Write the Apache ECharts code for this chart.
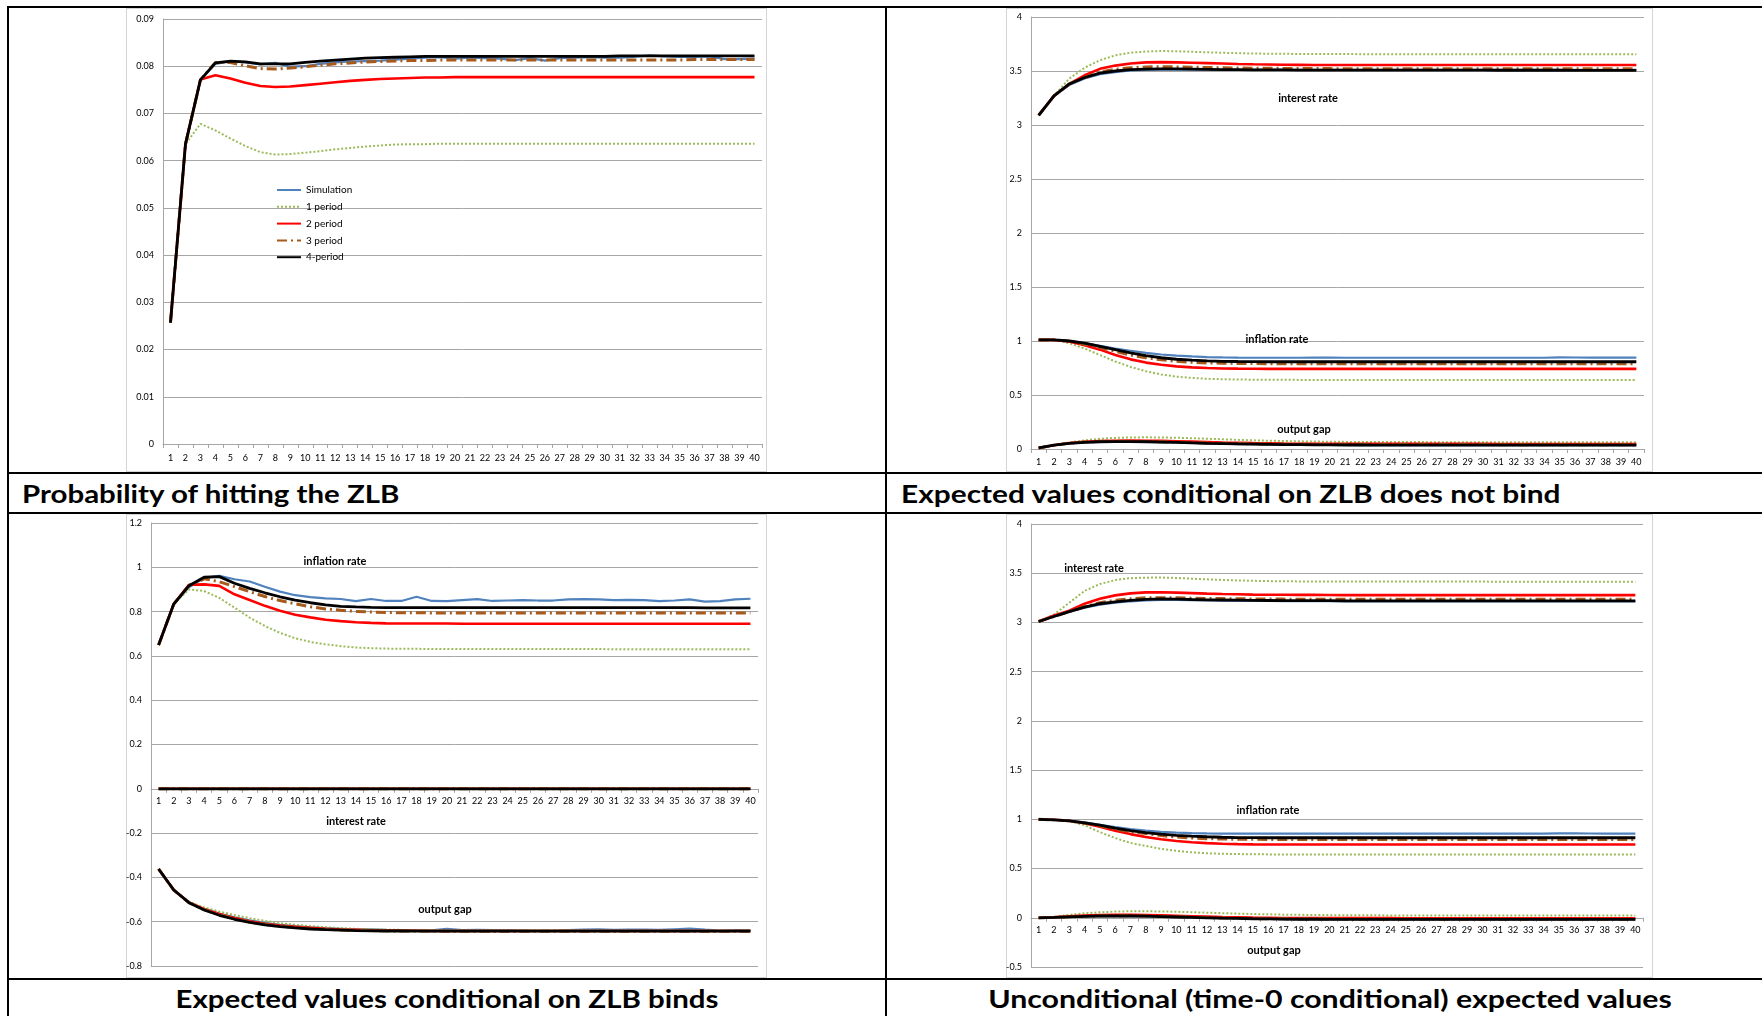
<!DOCTYPE html>
<html>
<head>
<meta charset="utf-8">
<script src="https://cdn.jsdelivr.net/npm/echarts@6/dist/echarts.min.js"></script>
<style>
html,body{margin:0;padding:0;background:#fff;width:1762px;height:1016px;overflow:hidden;font-family:Lato,"Liberation Sans",sans-serif;}
.hl{position:absolute;left:7px;width:1755px;height:2px;background:#000;}
.vl{position:absolute;top:6px;height:1010px;width:2px;background:#000;}
.frame{position:absolute;border:1px solid #D4D4D4;box-sizing:border-box;}
.title{position:absolute;font:bold 25px Lato,sans-serif;line-height:25px;white-space:nowrap;color:#000;}
.ann{position:absolute;font:bold 11px Lato,sans-serif;white-space:nowrap;color:#000;transform:translate(-50%,-50%);z-index:3;}
#chart{position:absolute;left:0;top:0;width:1762px;height:1016px;z-index:2;}
</style>
</head>
<body>
<div class="hl" style="top:6px"></div>
<div class="hl" style="top:472px"></div>
<div class="hl" style="top:512px"></div>
<div class="hl" style="top:978px"></div>
<div class="vl" style="left:7px"></div>
<div class="vl" style="left:885px"></div>
<div class="frame" style="left:126px;top:8px;width:641px;height:464px"></div>
<div class="frame" style="left:1006px;top:8px;width:647px;height:464px"></div>
<div class="frame" style="left:126px;top:514px;width:641px;height:464px"></div>
<div class="frame" style="left:1006px;top:514px;width:647px;height:464px"></div>
<div class="title" id="t1" style="left:22px;top:481px" data-w="378" data-a="left">Probability of hitting the ZLB</div>
<div class="title" id="t2" style="left:901px;top:481px" data-w="659" data-a="left">Expected values conditional on ZLB does not bind</div>
<div class="title" id="t3" style="left:447px;top:986px" data-w="543" data-a="center">Expected values conditional on ZLB binds</div>
<div class="title" id="t4" style="left:1330px;top:986px" data-w="684" data-a="center">Unconditional (time-0 conditional) expected values</div>
<div id="chart"></div>
<script>
// ---------- categories ----------
const categories = [1,2,3,4,5,6,7,8,9,10,11,12,13,14,15,16,17,18,19,20,21,22,23,24,25,26,27,28,29,30,31,32,33,34,35,36,37,38,39,40];
const seriesNames = ['Simulation','1 period','2 period','3 period','4-period'];

// ---------- Panel 1: probability of hitting the ZLB ----------
const probSim = [0.0257,0.0635,0.0771,0.0805,0.0810,0.0808,0.0804,0.0807,0.0799,0.0800,
  0.0805,0.0808,0.0810,0.0811,0.0812,0.0814,0.0816,0.0818,0.0819,0.0816,
  0.0818,0.0817,0.0816,0.0813,0.0817,0.0812,0.0817,0.0818,0.0819,0.0818,
  0.0818,0.0820,0.0823,0.0821,0.0820,0.0820,0.0821,0.0815,0.0815,0.0816];
const probP1 = [0.0257,0.0635,0.0678,0.0664,0.0647,0.0631,0.0618,0.0613,0.0614,0.0617,
  0.0620,0.0624,0.0627,0.0630,0.0632,0.0634,0.0635,0.0635,0.0636,0.0636,
  0.0636,0.0636,0.0636,0.0636,0.0636,0.0636,0.0636,0.0636,0.0636,0.0636,
  0.0636,0.0636,0.0636,0.0636,0.0636,0.0636,0.0636,0.0636,0.0636,0.0636];
const probP2 = [0.0257,0.0635,0.0772,0.0781,0.0774,0.0765,0.0758,0.0756,0.0757,0.0760,
  0.0763,0.0766,0.0769,0.0771,0.0773,0.0774,0.0775,0.0776,0.0776,0.0777,
  0.0777,0.0777,0.0777,0.0777,0.0777,0.0777,0.0777,0.0777,0.0777,0.0777,
  0.0777,0.0777,0.0777,0.0777,0.0777,0.0777,0.0777,0.0777,0.0777,0.0777];
const probP3 = [0.0257,0.0635,0.0771,0.0808,0.0808,0.0801,0.0795,0.0794,0.0796,0.0799,
  0.0802,0.0805,0.0807,0.0809,0.0810,0.0811,0.0812,0.0812,0.0813,0.0813,
  0.0813,0.0813,0.0813,0.0813,0.0813,0.0813,0.0813,0.0813,0.0813,0.0813,
  0.0813,0.0813,0.0813,0.0813,0.0813,0.0814,0.0814,0.0814,0.0814,0.0814];
const probP4 = [0.0257,0.0635,0.0771,0.0807,0.0811,0.0809,0.0805,0.0805,0.0805,0.0808,
  0.0811,0.0813,0.0815,0.0817,0.0818,0.0819,0.0820,0.0821,0.0821,0.0821,
  0.0821,0.0821,0.0821,0.0821,0.0821,0.0821,0.0821,0.0821,0.0821,0.0821,
  0.0822,0.0822,0.0822,0.0822,0.0822,0.0822,0.0822,0.0822,0.0822,0.0822];

// ---------- Panel 2: conditional on ZLB does not bind ----------
const nbRateSim = [3.09,3.27,3.37,3.43,3.47,3.49,3.505,3.51,3.513,3.514,
  3.513,3.512,3.511,3.51,3.51,3.51,3.51,3.51,3.51,3.51,
  3.51,3.51,3.51,3.51,3.51,3.51,3.51,3.51,3.51,3.51,
  3.51,3.51,3.51,3.51,3.51,3.51,3.51,3.51,3.51,3.51];
const nbRateP1 = [3.09,3.27,3.43,3.53,3.60,3.645,3.67,3.68,3.685,3.683,
  3.678,3.673,3.669,3.665,3.662,3.66,3.659,3.658,3.657,3.657,
  3.657,3.656,3.656,3.656,3.656,3.656,3.656,3.656,3.656,3.656,
  3.655,3.655,3.655,3.655,3.655,3.655,3.655,3.655,3.655,3.655];
const nbRateP2 = [3.09,3.27,3.38,3.46,3.52,3.55,3.57,3.58,3.582,3.58,
  3.577,3.573,3.569,3.565,3.562,3.56,3.558,3.557,3.556,3.556,
  3.555,3.555,3.555,3.555,3.555,3.555,3.555,3.555,3.555,3.555,
  3.555,3.555,3.555,3.555,3.555,3.555,3.555,3.555,3.555,3.555];
const nbRateP3 = [3.09,3.27,3.38,3.44,3.49,3.515,3.53,3.537,3.54,3.538,
  3.535,3.532,3.53,3.528,3.526,3.525,3.524,3.523,3.522,3.522,
  3.521,3.521,3.521,3.521,3.521,3.521,3.521,3.521,3.521,3.521,
  3.52,3.52,3.52,3.52,3.52,3.52,3.52,3.52,3.52,3.52];
const nbRateP4 = [3.09,3.27,3.38,3.44,3.48,3.50,3.512,3.518,3.52,3.519,
  3.517,3.515,3.513,3.512,3.511,3.51,3.51,3.509,3.509,3.508,
  3.508,3.508,3.508,3.508,3.508,3.508,3.508,3.508,3.508,3.508,
  3.507,3.507,3.507,3.507,3.507,3.506,3.506,3.506,3.506,3.506];
const nbInfSim = [1.01,1.01,1.0,0.98,0.955,0.93,0.91,0.89,0.875,0.865,
  0.857,0.851,0.848,0.846,0.845,0.845,0.845,0.845,0.846,0.846,
  0.845,0.845,0.845,0.845,0.845,0.845,0.845,0.845,0.845,0.845,
  0.845,0.845,0.845,0.845,0.848,0.847,0.846,0.846,0.846,0.846];
const nbInfP1 = [1.01,1.01,0.98,0.93,0.87,0.81,0.76,0.72,0.69,0.67,
  0.658,0.65,0.646,0.643,0.642,0.641,0.641,0.64,0.64,0.64,
  0.64,0.64,0.64,0.64,0.64,0.64,0.64,0.64,0.64,0.64,
  0.64,0.64,0.64,0.64,0.64,0.64,0.64,0.64,0.64,0.64];
const nbInfP2 = [1.01,1.01,0.995,0.96,0.92,0.87,0.83,0.80,0.78,0.765,
  0.756,0.75,0.746,0.744,0.743,0.742,0.742,0.742,0.742,0.742,
  0.742,0.742,0.742,0.742,0.742,0.742,0.742,0.742,0.742,0.742,
  0.742,0.742,0.742,0.742,0.742,0.742,0.742,0.742,0.742,0.742];
const nbInfP3 = [1.01,1.01,1.0,0.97,0.94,0.905,0.87,0.845,0.826,0.812,
  0.803,0.797,0.794,0.792,0.791,0.79,0.79,0.79,0.79,0.79,
  0.79,0.79,0.79,0.79,0.79,0.79,0.79,0.79,0.79,0.79,
  0.79,0.79,0.79,0.79,0.79,0.79,0.79,0.79,0.79,0.79];
const nbInfP4 = [1.01,1.01,1.0,0.98,0.95,0.92,0.89,0.865,0.845,0.831,
  0.822,0.816,0.812,0.81,0.809,0.808,0.808,0.808,0.808,0.808,
  0.808,0.808,0.808,0.808,0.808,0.808,0.808,0.808,0.808,0.808,
  0.808,0.808,0.808,0.808,0.808,0.808,0.808,0.808,0.808,0.808];
const nbGapSim = [0.01,0.035,0.052,0.061,0.066,0.068,0.068,0.066,0.063,0.06,
  0.056,0.052,0.049,0.046,0.044,0.042,0.04,0.039,0.038,0.037,
  0.037,0.036,0.036,0.036,0.036,0.036,0.036,0.036,0.036,0.036,
  0.035,0.035,0.035,0.035,0.035,0.035,0.035,0.035,0.035,0.035];
const nbGapP1 = [0.01,0.035,0.06,0.08,0.095,0.103,0.107,0.108,0.107,0.104,
  0.1,0.095,0.09,0.085,0.08,0.077,0.074,0.071,0.069,0.067,
  0.066,0.065,0.065,0.064,0.064,0.064,0.063,0.063,0.063,0.063,
  0.063,0.063,0.062,0.062,0.062,0.062,0.062,0.062,0.062,0.062];
const nbGapP2 = [0.01,0.035,0.055,0.067,0.074,0.077,0.078,0.077,0.075,0.072,
  0.068,0.064,0.06,0.057,0.054,0.052,0.05,0.049,0.048,0.048,
  0.047,0.047,0.047,0.047,0.047,0.047,0.047,0.047,0.047,0.047,
  0.046,0.046,0.046,0.046,0.046,0.046,0.046,0.046,0.046,0.046];
const nbGapP3 = [0.01,0.035,0.054,0.065,0.07,0.072,0.072,0.07,0.067,0.064,
  0.06,0.056,0.053,0.05,0.048,0.046,0.045,0.044,0.043,0.042,
  0.041,0.041,0.041,0.041,0.041,0.041,0.041,0.041,0.041,0.041,
  0.04,0.04,0.04,0.04,0.04,0.04,0.04,0.04,0.04,0.04];
const nbGapP4 = [0.01,0.035,0.053,0.062,0.067,0.069,0.069,0.067,0.064,0.061,
  0.057,0.053,0.05,0.047,0.045,0.043,0.041,0.04,0.039,0.038,
  0.037,0.037,0.036,0.036,0.036,0.036,0.036,0.036,0.036,0.036,
  0.035,0.035,0.035,0.035,0.035,0.035,0.035,0.035,0.035,0.035];

// ---------- Panel 3: conditional on ZLB binds ----------
const bInfSim = [0.649,0.834,0.91,0.952,0.961,0.946,0.936,0.912,0.89,0.874,
  0.865,0.86,0.857,0.847,0.857,0.848,0.848,0.867,0.848,0.847,
  0.852,0.856,0.848,0.85,0.852,0.85,0.85,0.855,0.856,0.855,
  0.852,0.853,0.852,0.847,0.85,0.855,0.845,0.847,0.855,0.858];
const bInfP1 = [0.649,0.834,0.90,0.893,0.862,0.818,0.773,0.735,0.704,0.68,
  0.663,0.652,0.644,0.638,0.635,0.633,0.632,0.632,0.631,0.631,
  0.631,0.631,0.631,0.631,0.631,0.631,0.631,0.631,0.631,0.631,
  0.63,0.63,0.63,0.63,0.63,0.63,0.63,0.63,0.63,0.63];
const bInfP2 = [0.649,0.834,0.921,0.923,0.916,0.878,0.852,0.826,0.804,0.786,
  0.774,0.763,0.757,0.752,0.749,0.747,0.746,0.746,0.746,0.746,
  0.745,0.745,0.745,0.745,0.745,0.745,0.745,0.745,0.745,0.745,
  0.745,0.745,0.745,0.745,0.745,0.745,0.745,0.745,0.745,0.745];
const bInfP3 = [0.649,0.834,0.917,0.948,0.935,0.913,0.89,0.868,0.85,0.835,
  0.822,0.812,0.806,0.801,0.798,0.796,0.795,0.795,0.794,0.794,
  0.794,0.794,0.794,0.794,0.794,0.794,0.794,0.794,0.794,0.794,
  0.794,0.794,0.794,0.794,0.794,0.794,0.794,0.794,0.794,0.794];
const bInfP4 = [0.649,0.834,0.917,0.955,0.958,0.928,0.905,0.885,0.867,0.852,
  0.84,0.83,0.824,0.821,0.819,0.818,0.818,0.818,0.818,0.818,
  0.818,0.818,0.818,0.818,0.818,0.818,0.818,0.818,0.818,0.818,
  0.818,0.818,0.818,0.818,0.818,0.818,0.817,0.817,0.817,0.817];
const bRate = [0,0,0,0,0,0,0,0,0,0,
  0,0,0,0,0,0,0,0,0,0,
  0,0,0,0,0,0,0,0,0,0,
  0,0,0,0,0,0,0,0,0,0];
const bGapSim = [-0.362,-0.457,-0.512,-0.542,-0.563,-0.58,-0.594,-0.605,-0.614,-0.62,
  -0.625,-0.629,-0.632,-0.635,-0.634,-0.637,-0.638,-0.639,-0.639,-0.632,
  -0.638,-0.637,-0.638,-0.638,-0.639,-0.64,-0.64,-0.638,-0.636,-0.634,
  -0.637,-0.636,-0.636,-0.637,-0.634,-0.631,-0.636,-0.64,-0.638,-0.639];
const bGapP1 = [-0.362,-0.457,-0.51,-0.536,-0.554,-0.57,-0.584,-0.596,-0.606,-0.614,
  -0.62,-0.625,-0.629,-0.632,-0.634,-0.636,-0.637,-0.638,-0.638,-0.639,
  -0.639,-0.639,-0.639,-0.639,-0.639,-0.639,-0.639,-0.639,-0.639,-0.639,
  -0.64,-0.64,-0.64,-0.64,-0.64,-0.64,-0.64,-0.64,-0.64,-0.64];
const bGapP2 = [-0.362,-0.457,-0.513,-0.543,-0.565,-0.583,-0.598,-0.609,-0.617,-0.623,
  -0.628,-0.632,-0.635,-0.637,-0.639,-0.64,-0.641,-0.641,-0.642,-0.642,
  -0.642,-0.642,-0.642,-0.642,-0.642,-0.642,-0.642,-0.642,-0.642,-0.642,
  -0.642,-0.642,-0.642,-0.642,-0.642,-0.642,-0.642,-0.642,-0.642,-0.642];
const bGapP3 = [-0.362,-0.457,-0.514,-0.545,-0.568,-0.586,-0.601,-0.612,-0.62,-0.626,
  -0.631,-0.635,-0.637,-0.639,-0.64,-0.641,-0.642,-0.642,-0.642,-0.643,
  -0.643,-0.643,-0.643,-0.643,-0.643,-0.643,-0.643,-0.643,-0.643,-0.643,
  -0.643,-0.643,-0.643,-0.643,-0.643,-0.643,-0.643,-0.643,-0.643,-0.643];
const bGapP4 = [-0.362,-0.457,-0.514,-0.547,-0.571,-0.589,-0.603,-0.614,-0.622,-0.628,
  -0.633,-0.636,-0.638,-0.64,-0.641,-0.642,-0.642,-0.643,-0.643,-0.643,
  -0.643,-0.643,-0.643,-0.643,-0.643,-0.643,-0.643,-0.643,-0.643,-0.643,
  -0.643,-0.643,-0.643,-0.643,-0.643,-0.643,-0.643,-0.643,-0.643,-0.643];

// ---------- Panel 4: unconditional (time-0 conditional) ----------
const uRateSim = [3.01,3.06,3.11,3.15,3.18,3.20,3.215,3.225,3.23,3.228,
  3.226,3.224,3.222,3.22,3.219,3.218,3.217,3.217,3.216,3.216,
  3.215,3.215,3.215,3.215,3.215,3.215,3.215,3.215,3.215,3.215,
  3.215,3.215,3.215,3.215,3.215,3.215,3.215,3.215,3.215,3.215];
const uRateP1 = [3.01,3.08,3.20,3.32,3.39,3.43,3.45,3.455,3.456,3.452,
  3.445,3.438,3.432,3.427,3.423,3.42,3.418,3.417,3.416,3.415,
  3.415,3.415,3.415,3.415,3.415,3.415,3.415,3.415,3.415,3.415,
  3.414,3.414,3.414,3.414,3.414,3.414,3.414,3.414,3.414,3.414];
const uRateP2 = [3.01,3.07,3.12,3.19,3.24,3.275,3.295,3.305,3.306,3.303,
  3.298,3.293,3.289,3.286,3.283,3.282,3.281,3.28,3.28,3.279,
  3.278,3.278,3.278,3.278,3.278,3.278,3.278,3.278,3.278,3.278,
  3.278,3.278,3.278,3.278,3.278,3.278,3.278,3.278,3.278,3.278];
const uRateP3 = [3.01,3.06,3.11,3.16,3.20,3.225,3.24,3.25,3.252,3.25,
  3.247,3.244,3.242,3.24,3.239,3.238,3.237,3.236,3.236,3.236,
  3.235,3.235,3.235,3.235,3.235,3.235,3.235,3.235,3.235,3.235,
  3.235,3.235,3.235,3.235,3.235,3.235,3.235,3.235,3.235,3.235];
const uRateP4 = [3.01,3.06,3.11,3.155,3.19,3.21,3.225,3.235,3.24,3.237,
  3.233,3.23,3.228,3.226,3.224,3.223,3.222,3.222,3.221,3.221,
  3.22,3.22,3.22,3.22,3.22,3.22,3.22,3.22,3.22,3.22,
  3.22,3.22,3.22,3.22,3.22,3.22,3.22,3.22,3.22,3.22];
const uInfSim = [1.0,0.995,0.988,0.97,0.945,0.92,0.90,0.885,0.873,0.865,
  0.86,0.857,0.855,0.854,0.854,0.854,0.854,0.854,0.854,0.854,
  0.854,0.854,0.854,0.854,0.854,0.854,0.854,0.854,0.854,0.854,
  0.854,0.854,0.854,0.854,0.858,0.857,0.856,0.855,0.855,0.855];
const uInfP1 = [1.0,0.995,0.98,0.94,0.87,0.81,0.76,0.73,0.70,0.68,
  0.665,0.655,0.65,0.647,0.645,0.644,0.644,0.643,0.643,0.643,
  0.643,0.643,0.643,0.643,0.643,0.643,0.643,0.643,0.643,0.643,
  0.643,0.643,0.643,0.643,0.643,0.643,0.643,0.643,0.643,0.643];
const uInfP2 = [1.0,0.995,0.985,0.96,0.925,0.885,0.85,0.82,0.797,0.78,
  0.768,0.758,0.752,0.748,0.746,0.745,0.745,0.745,0.745,0.745,
  0.745,0.745,0.745,0.745,0.745,0.745,0.745,0.745,0.745,0.745,
  0.745,0.745,0.745,0.745,0.745,0.745,0.745,0.745,0.745,0.745];
const uInfP3 = [1.0,0.995,0.985,0.962,0.935,0.90,0.875,0.855,0.835,0.82,
  0.81,0.803,0.80,0.798,0.797,0.796,0.796,0.796,0.796,0.796,
  0.796,0.796,0.796,0.796,0.796,0.796,0.796,0.796,0.796,0.796,
  0.796,0.796,0.796,0.796,0.796,0.796,0.796,0.796,0.796,0.796];
const uInfP4 = [1.0,0.995,0.985,0.965,0.94,0.91,0.885,0.865,0.85,0.838,
  0.83,0.823,0.818,0.815,0.814,0.813,0.813,0.813,0.813,0.813,
  0.813,0.813,0.813,0.813,0.813,0.813,0.813,0.813,0.813,0.813,
  0.813,0.813,0.813,0.813,0.813,0.813,0.813,0.813,0.813,0.813];
const uGapSim = [0,0.004,0.01,0.014,0.017,0.018,0.017,0.015,0.011,0.007,
  0.003,0,-0.004,-0.007,-0.009,-0.011,-0.013,-0.014,-0.015,-0.015,
  -0.015,-0.015,-0.016,-0.016,-0.016,-0.016,-0.016,-0.016,-0.016,-0.016,
  -0.016,-0.016,-0.016,-0.016,-0.016,-0.016,-0.016,-0.016,-0.016,-0.016];
const uGapP1 = [0,0.01,0.03,0.045,0.056,0.063,0.066,0.066,0.064,0.061,
  0.057,0.052,0.047,0.042,0.038,0.035,0.032,0.03,0.028,0.027,
  0.026,0.025,0.025,0.024,0.024,0.024,0.023,0.023,0.023,0.023,
  0.023,0.022,0.022,0.022,0.022,0.022,0.022,0.022,0.022,0.022];
const uGapP2 = [0,0.005,0.015,0.022,0.027,0.029,0.029,0.027,0.024,0.02,
  0.016,0.012,0.008,0.005,0.002,0,-0.002,-0.003,-0.003,-0.004,
  -0.004,-0.004,-0.004,-0.004,-0.005,-0.005,-0.005,-0.005,-0.005,-0.005,
  -0.005,-0.005,-0.005,-0.005,-0.005,-0.005,-0.005,-0.005,-0.005,-0.005];
const uGapP3 = [0,0.004,0.011,0.016,0.02,0.021,0.02,0.018,0.014,0.01,
  0.006,0.002,-0.002,-0.005,-0.008,-0.01,-0.011,-0.012,-0.013,-0.013,
  -0.014,-0.014,-0.014,-0.014,-0.014,-0.014,-0.014,-0.014,-0.014,-0.014,
  -0.014,-0.014,-0.014,-0.014,-0.014,-0.014,-0.014,-0.014,-0.014,-0.014];
const uGapP4 = [0,0.004,0.01,0.015,0.018,0.019,0.018,0.016,0.012,0.008,
  0.004,0,-0.004,-0.007,-0.01,-0.012,-0.014,-0.015,-0.015,-0.016,
  -0.016,-0.016,-0.016,-0.016,-0.017,-0.017,-0.017,-0.017,-0.017,-0.017,
  -0.017,-0.017,-0.017,-0.017,-0.017,-0.017,-0.017,-0.017,-0.017,-0.017];

// ---------- y-axis scales per panel ----------
const yScales = [
  {min:0, max:0.09, interval:0.01},
  {min:0, max:4, interval:0.5},
  {min:-0.8, max:1.2, interval:0.2},
  {min:-0.5, max:4, interval:0.5}
];

// ---------- styling ----------
const STYLES = [
  {color:'#4F81BD', width:2.2, type:'solid'},
  {color:'#9BBB59', width:2, type:[2,2]},
  {color:'#FF0000', width:2.6, type:'solid'},
  {color:'#A65A1C', width:3, type:[10,4,2,4]},
  {color:'#000000', width:2.8, type:'solid'}
];
const FONT = 'Lato';
const GRIDC = '#A6A6A6';

const panels = [
  {groups:[[probSim,probP1,probP2,probP3,probP4]]},
  {groups:[[nbRateSim,nbRateP1,nbRateP2,nbRateP3,nbRateP4],[nbInfSim,nbInfP1,nbInfP2,nbInfP3,nbInfP4],[nbGapSim,nbGapP1,nbGapP2,nbGapP3,nbGapP4]]},
  {groups:[[bInfSim,bInfP1,bInfP2,bInfP3,bInfP4],[bRate,bRate,bRate,bRate,bRate],[bGapSim,bGapP1,bGapP2,bGapP3,bGapP4]]},
  {groups:[[uRateSim,uRateP1,uRateP2,uRateP3,uRateP4],[uInfSim,uInfP1,uInfP2,uInfP3,uInfP4],[uGapSim,uGapP1,uGapP2,uGapP3,uGapP4]]}
];

const grids = [
  {left:163, top:19, width:599, height:425},
  {left:1031, top:17, width:613, height:432},
  {left:151, top:523, width:607, height:443},
  {left:1031, top:524, width:612, height:443}
];
const xLabelMargin = [10, 9, 8, 8];

// the category axis crosses the value axis at zero
const xAxes = grids.map((g, i) => {
  const ys = yScales[i];
  const zeroOffset = ys.min < 0 ? -((0 - ys.min) / (ys.max - ys.min)) * g.height : 0;
  return {
    type:'category', gridIndex:i, data:categories, boundaryGap:true, position:'bottom',
    offset:zeroOffset,
    axisLine:{show:true, onZero:false, lineStyle:{color:GRIDC, width:1}},
    axisTick:{show:true, length:4, lineStyle:{color:GRIDC}},
    axisLabel:{interval:0, fontSize:9, color:'#000', fontFamily:FONT, margin:xLabelMargin[i]},
    splitLine:{show:false}
  };
});
const yAxes = grids.map((g, i) => ({
  type:'value', gridIndex:i, min:yScales[i].min, max:yScales[i].max, interval:yScales[i].interval,
  axisLine:{show:true, lineStyle:{color:GRIDC, width:1}},
  axisTick:{show:false},
  axisLabel:{fontSize:9, color:'#000', fontFamily:FONT, margin:9},
  splitLine:{show:true, lineStyle:{color:GRIDC, width:1}}
}));

const series = [];
panels.forEach((p, pi) => {
  p.groups.forEach(group => {
    group.forEach((arr, k) => {
      const s = STYLES[k];
      series.push({
        type:'line', name:seriesNames[k], xAxisIndex:pi, yAxisIndex:pi,
        data:arr, symbol:'none', showSymbol:false, smooth:false, animation:false,
        lineStyle:{color:s.color, width:s.width, type:s.type},
        itemStyle:{color:s.color, opacity:0}, z:2+k
      });
    });
  });
});

const chart = echarts.init(document.getElementById('chart'), null, {renderer:'canvas'});
chart.setOption({
  backgroundColor:'transparent',
  animation:false,
  grid:grids.map(g => Object.assign({containLabel:false}, g)),
  xAxis:xAxes,
  yAxis:yAxes,
  legend:{
    data:seriesNames, orient:'vertical', left:276, top:185,
    itemWidth:24, itemHeight:10, itemGap:6.8, padding:0, selectedMode:false,
    itemStyle:{opacity:0},
    textStyle:{fontSize:10, color:'#000', fontFamily:FONT}
  },
  series:series
});

// ---------- in-chart annotations ----------
const annotations = [
  {t:'interest rate', x:1308, y:97},
  {t:'inflation rate', x:1277, y:338},
  {t:'output gap', x:1304, y:428},
  {t:'inflation rate', x:335, y:560},
  {t:'interest rate', x:356, y:820},
  {t:'output gap', x:445, y:908},
  {t:'interest rate', x:1094, y:567},
  {t:'inflation rate', x:1268, y:809},
  {t:'output gap', x:1274, y:949}
];
annotations.forEach(a => {
  const d = document.createElement('div');
  d.className = 'ann';
  d.textContent = a.t;
  d.style.left = a.x + 'px';
  d.style.top = a.y + 'px';
  document.body.appendChild(d);
});

// fit title widths to the reference
document.querySelectorAll('.title').forEach(el => {
  const target = parseFloat(el.dataset.w);
  const w = el.offsetWidth;
  const sc = target / w;
  if (el.dataset.a === 'center') {
    el.style.transform = 'translateX(-50%) scaleX(' + sc + ')';
    el.style.transformOrigin = 'center';
  } else {
    el.style.transform = 'scaleX(' + sc + ')';
    el.style.transformOrigin = 'left';
  }
});
</script>
</body>
</html>
